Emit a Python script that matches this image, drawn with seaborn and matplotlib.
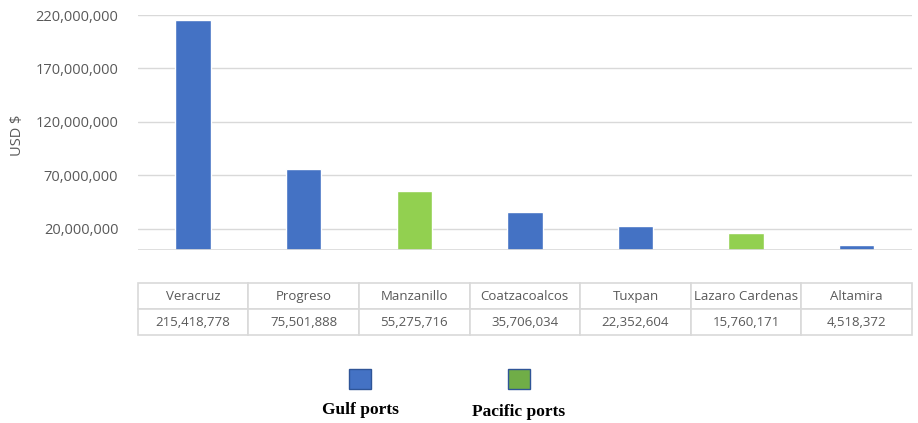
import seaborn as sns
import matplotlib.pyplot as plt
import pandas as pd
from matplotlib.patches import Rectangle
from matplotlib.ticker import FuncFormatter

ports  = ['Veracruz', 'Progreso', 'Manzanillo', 'Coatzacoalcos', 'Tuxpan', 'Lazaro Cardenas', 'Altamira']
values = [215418778, 75501888, 55275716, 35706034, 22352604, 15760171, 4518372]
coast  = ['Gulf', 'Gulf', 'Pacific', 'Gulf', 'Gulf', 'Pacific', 'Gulf']
yticks = [20000000, 70000000, 120000000, 170000000, 220000000]

bar_colors = {'Gulf': '#4472C4', 'Pacific': '#92D050'}
gray = '#595959'

df = pd.DataFrame({'port': ports, 'value': values, 'coast': coast})

sns.set_style('white')
plt.rcParams['font.family'] = ['Open Sans', 'DejaVu Sans']

fig = plt.figure(figsize=(9.18, 4.23), dpi=100)
ax = fig.add_axes([0.150, 0.409, 0.8435, 0.5555])

sns.barplot(data=df, x='port', y='value', hue='coast', palette=bar_colors,
            dodge=False, width=0.32, saturation=1, legend=False, ax=ax)

ax.set_ylim(0, 220000000)
ax.set_yticks(yticks)
ax.yaxis.set_major_formatter(FuncFormatter(lambda v, p: f'{int(v):,}'))
ax.tick_params(axis='y', labelsize=10.5, labelcolor=gray, length=0, pad=14)
ax.grid(axis='y', color='#D9D9D9', linewidth=1)
ax.set_axisbelow(True)
ax.axhline(0, color='#D9D9D9', linewidth=1.2)
for s in ax.spines.values():
    s.set_visible(False)
ax.set_xlabel('')
ax.set_xticks([])
ax.set_ylabel('')
ax.set_xlim(-0.5, len(ports) - 0.5)
fig.text(18 / 918, 1 - 135 / 423, 'USD $', rotation=90, ha='center', va='center',
         fontsize=10.5, color=gray)

# data table below the bars
cells = [ports, [f'{v:,}' for v in values]]
tbl = ax.table(cellText=cells, cellLoc='center', bbox=[0, -0.362, 1, 0.221])
tbl.auto_set_font_size(False)
tbl.set_fontsize(9.5)
for (r, c), cell in tbl.get_celld().items():
    cell.set_edgecolor('#D9D9D9')
    cell.set_linewidth(1.2)
    cell.get_text().set_color(gray)

# legend, drawn by hand like the original
legend_items = [('Gulf ports', '#4472C4', 360, 410), ('Pacific ports', '#70AD47', 519, 412)]
for label, color, xc, ylab in legend_items:
    fig.patches.append(Rectangle(((xc - 11) / 918, 1 - 389 / 423), 22 / 918, 20 / 423,
                                 transform=fig.transFigure, facecolor=color,
                                 edgecolor='#2F5597', linewidth=1))
    fig.text(xc / 918, 1 - ylab / 423, label, ha='center', va='center',
             fontsize=12.5, fontweight='bold', family='Liberation Serif', color='black')

fig.savefig('out.png', dpi=100)
